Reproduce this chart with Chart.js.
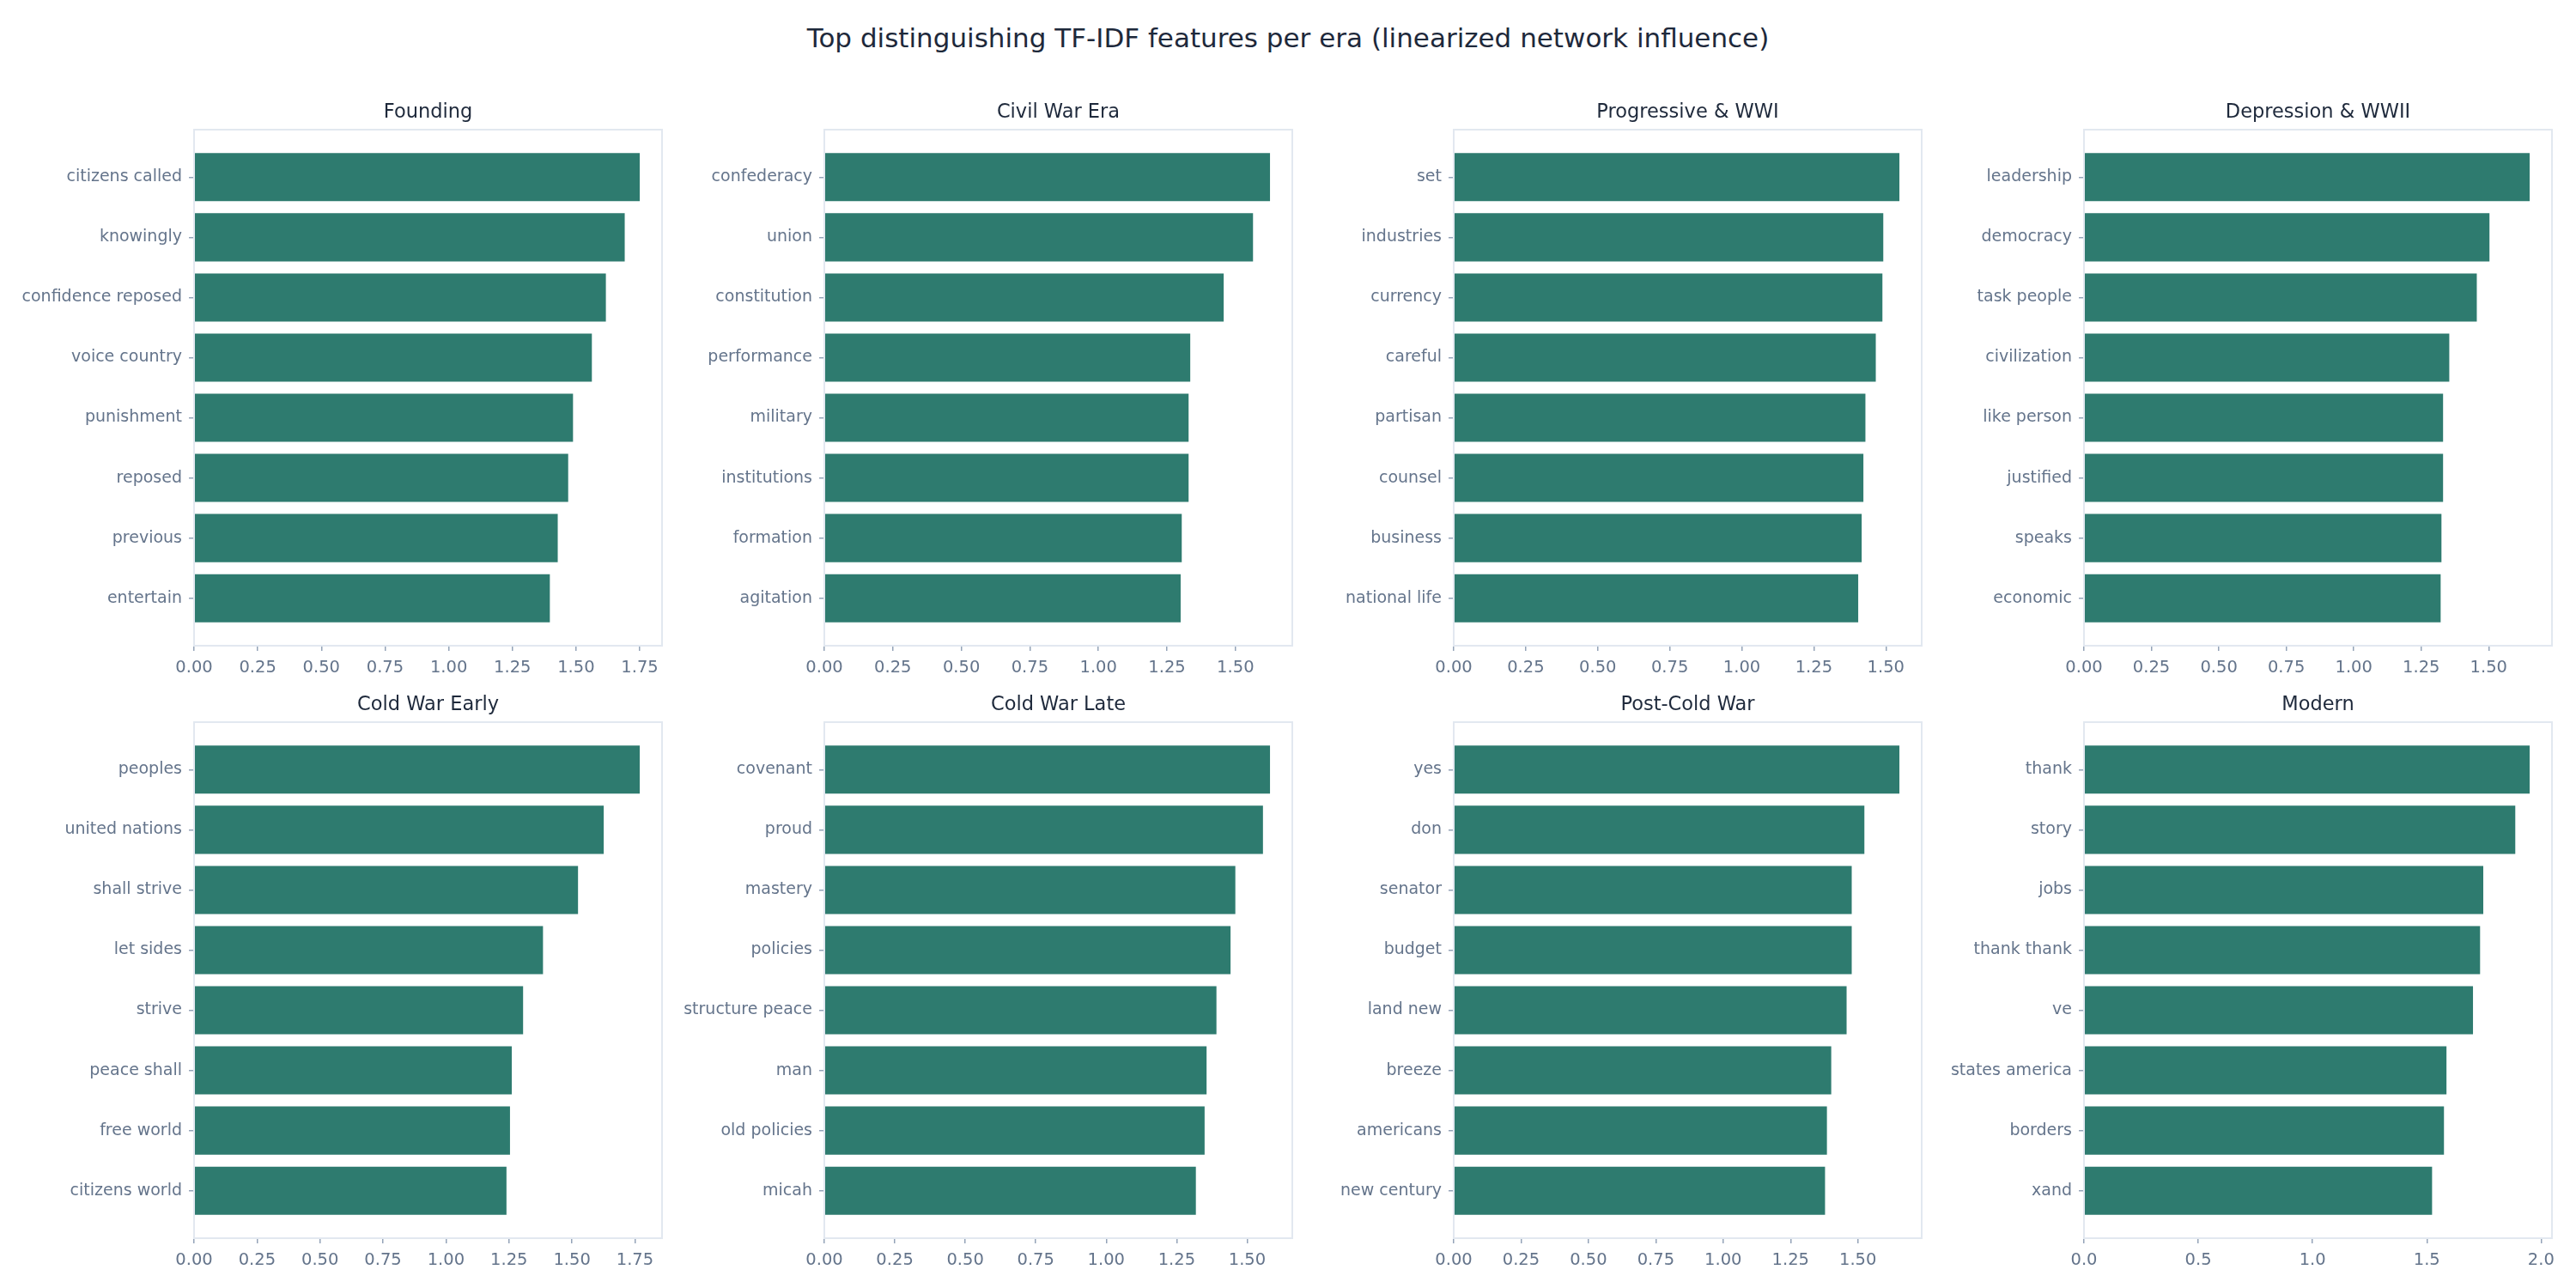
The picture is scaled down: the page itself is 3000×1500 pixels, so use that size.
<!DOCTYPE html>
<html>
<head>
<meta charset="utf-8">
<script src="https://cdn.jsdelivr.net/npm/chart.js@4.4.1/dist/chart.umd.min.js"></script>
<style>
  html, body { margin: 0; padding: 0; background: #ffffff; }
  body { width: 3000px; height: 1500px; position: relative; overflow: hidden; font-family: "DejaVu Sans", sans-serif; }
  #suptitle { position: absolute; left: 0; top: 24px; width: 3000px; text-align: center; font-size: 31px; line-height: 40px; color: #1e293b; }
  .panel { position: absolute; }
</style>
</head>
<body>
<div id="suptitle">Top distinguishing TF-IDF features per era (linearized network influence)</div>
<script>
// panel titles
const eras = ["Founding", "Civil War Era", "Progressive & WWI", "Depression & WWII",
              "Cold War Early", "Cold War Late", "Post-Cold War", "Modern"];

// terms and scores, top bar first
const foundingTerms = ["citizens called", "knowingly", "confidence reposed", "voice country", "punishment", "reposed", "previous", "entertain"];
const foundingScores = [1.750, 1.691, 1.617, 1.562, 1.488, 1.469, 1.428, 1.397];

const civilWarTerms = ["confederacy", "union", "constitution", "performance", "military", "institutions", "formation", "agitation"];
const civilWarScores = [1.626, 1.564, 1.457, 1.335, 1.329, 1.329, 1.304, 1.300];

const progressiveTerms = ["set", "industries", "currency", "careful", "partisan", "counsel", "business", "national life"];
const progressiveScores = [1.547, 1.491, 1.488, 1.465, 1.429, 1.422, 1.416, 1.404];

const depressionTerms = ["leadership", "democracy", "task people", "civilization", "like person", "justified", "speaks", "economic"];
const depressionScores = [1.652, 1.503, 1.456, 1.354, 1.331, 1.331, 1.325, 1.322];

const coldEarlyTerms = ["peoples", "united nations", "shall strive", "let sides", "strive", "peace shall", "free world", "citizens world"];
const coldEarlyScores = [1.769, 1.626, 1.524, 1.385, 1.306, 1.261, 1.254, 1.240];

const coldLateTerms = ["covenant", "proud", "mastery", "policies", "structure peace", "man", "old policies", "micah"];
const coldLateScores = [1.581, 1.556, 1.458, 1.441, 1.391, 1.356, 1.349, 1.318];

const postColdTerms = ["yes", "don", "senator", "budget", "land new", "breeze", "americans", "new century"];
const postColdScores = [1.654, 1.524, 1.477, 1.477, 1.458, 1.401, 1.385, 1.378];

const modernTerms = ["thank", "story", "jobs", "thank thank", "ve", "states america", "borders", "xand"];
const modernScores = [1.950, 1.887, 1.747, 1.733, 1.702, 1.586, 1.575, 1.523];

// x tick step per panel
const tickSteps = [0.25, 0.25, 0.25, 0.25, 0.25, 0.25, 0.25, 0.5];

const allTerms = [foundingTerms, civilWarTerms, progressiveTerms, depressionTerms,
                  coldEarlyTerms, coldLateTerms, postColdTerms, modernTerms];
const allScores = [foundingScores, civilWarScores, progressiveScores, depressionScores,
                   coldEarlyScores, coldLateScores, postColdScores, modernScores];

const BAR_COLOR = "#2e7b6f";
const TICK_COLOR = "#64748b";
const FRAME_COLOR = "#e2e8f0";
const TITLE_COLOR = "#1e293b";
const FONT = "DejaVu Sans";

// layout of the axes frames
const frameLefts = [226, 959.5, 1693, 2427];
const frameTops = [151, 841];
const frameW = 545;
const frameH = 601;
const labelSpace = 220;
const padTop = 50;
const padBottom = 50;
const padRight = 40;

const framePlugin = {
  id: "frameAndTitle",
  afterDatasetsDraw(chart) {
    const { ctx, chartArea } = chart;
    ctx.save();
    ctx.strokeStyle = FRAME_COLOR;
    ctx.lineWidth = 2;
    ctx.strokeRect(chartArea.left, chartArea.top, chartArea.right - chartArea.left, chartArea.bottom - chartArea.top);
    ctx.restore();
  },
  afterDraw(chart, args, opts) {
    const { ctx, chartArea } = chart;
    ctx.save();
    ctx.fillStyle = TITLE_COLOR;
    ctx.font = `22.5px "${FONT}"`;
    ctx.textAlign = "center";
    ctx.textBaseline = "middle";
    ctx.fillText(opts.text, (chartArea.left + chartArea.right) / 2, chartArea.top - 20);
    ctx.restore();
  }
};

eras.forEach((era, idx) => {
  const terms = allTerms[idx];
  const scores = allScores[idx];
  const step = tickSteps[idx];
  const col = idx % 4;
  const row = Math.floor(idx / 4);

  const div = document.createElement("div");
  div.className = "panel";
  const w = labelSpace + frameW + padRight;
  const h = padTop + frameH + padBottom;
  div.style.left = (frameLefts[col] - labelSpace) + "px";
  div.style.top = (frameTops[row] - padTop) + "px";
  div.style.width = w + "px";
  div.style.height = h + "px";
  const canvas = document.createElement("canvas");
  canvas.width = w;
  canvas.height = h;
  div.appendChild(canvas);
  document.body.appendChild(div);

  const xMax = Math.max(...scores) * 1.05;
  const decimals = step < 0.5 ? 2 : 1;
  const n = terms.length;
  const yPad = 0.05 * (n - 1 + 0.8);
  const yMin = -0.4 - yPad;
  const yMax = n - 1 + 0.4 + yPad;

  new Chart(canvas.getContext("2d"), {
    type: "bar",
    data: {
      datasets: [{
        data: terms.map((t, i) => ({ x: scores[i], y: i })),
        backgroundColor: BAR_COLOR,
        borderWidth: 0,
        barPercentage: 0.8,
        categoryPercentage: 1.0
      }]
    },
    options: {
      indexAxis: "y",
      responsive: false,
      animation: false,
      devicePixelRatio: 1,
      layout: { padding: { top: padTop, right: padRight, bottom: 0, left: 0 } },
      plugins: {
        legend: { display: false },
        tooltip: { enabled: false },
        frameAndTitle: { text: era }
      },
      scales: {
        x: {
          type: "linear",
          bounds: "data",
          offset: false,
          min: 0,
          max: xMax,
          border: { display: false },
          grid: { display: true, offset: false, drawOnChartArea: false, drawTicks: true, tickLength: 6, color: "#94a3b8", lineWidth: 1.5 },
          ticks: {
            color: TICK_COLOR,
            font: { family: FONT, size: 19.5 },
            padding: 8,
            maxRotation: 0,
            autoSkip: false,
            callback: (v) => Number(v).toFixed(decimals)
          },
          afterBuildTicks: (scale) => {
            const ticks = [];
            for (let k = 0; k * step <= xMax + 1e-9; k++) ticks.push({ value: +(k * step).toFixed(4) });
            scale.ticks = ticks;
            scale.min = 0;
            scale.max = xMax;
          },
          afterFit: (scale) => {
            scale.paddingLeft = 0;
            scale.paddingRight = 0;
            scale.height = padBottom;
          }
        },
        y: {
          type: "linear",
          bounds: "data",
          offset: false,
          reverse: true,
          min: yMin,
          max: yMax,
          border: { display: false },
          grid: { display: true, offset: false, drawOnChartArea: false, drawTicks: true, tickLength: 6, color: "#94a3b8", lineWidth: 1.5 },
          ticks: {
            color: TICK_COLOR,
            font: { family: FONT, size: 19 },
            padding: 8,
            autoSkip: false,
            callback: (v) => terms[v]
          },
          afterBuildTicks: (scale) => {
            scale.ticks = terms.map((t, i) => ({ value: i }));
            scale.min = yMin;
            scale.max = yMax;
          },
          afterFit: (scale) => {
            scale.width = labelSpace;
            scale.paddingTop = 0;
            scale.paddingBottom = 0;
          }
        }
      }
    },
    plugins: [framePlugin]
  });
});
</script>
</body>
</html>
